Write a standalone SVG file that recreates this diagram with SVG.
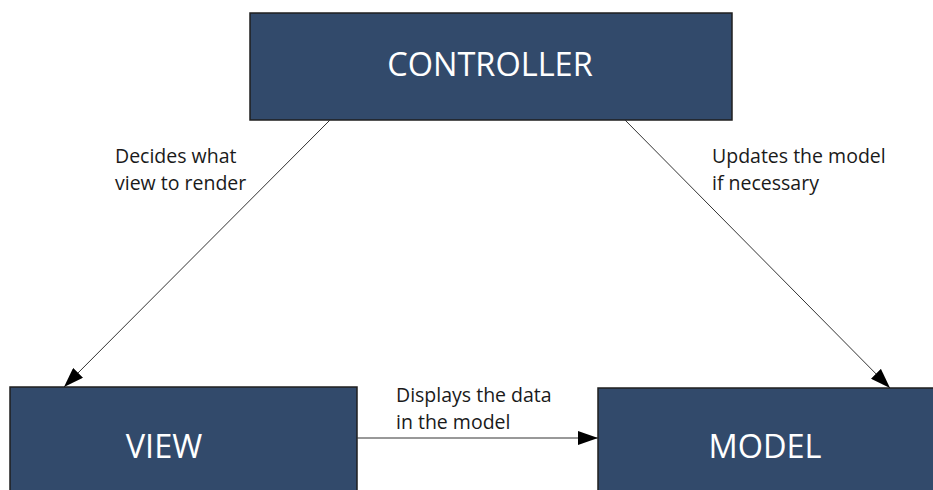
<svg xmlns="http://www.w3.org/2000/svg" width="933" height="490" viewBox="0 0 933 490">
  <style>
    .box { fill: #324a6b; stroke: #1f1f1f; stroke-width: 1.5; }
    .title { font-family: "Open Sans", "Noto Sans", sans-serif; font-size: 32.5px; fill: #ffffff; text-anchor: middle; }
    .label { font-family: "Open Sans", "Noto Sans", sans-serif; font-size: 19.5px; fill: #1a1a1a; }
    .edge { stroke: #333333; stroke-width: 1; fill: none; marker-end: url(#arrow); }
  </style>
  <defs>
    <marker id="arrow" viewBox="0 0 20 14" refX="20" refY="7" markerWidth="20" markerHeight="14" markerUnits="userSpaceOnUse" orient="auto">
      <path d="M0,0 L20,7 L0,14 Z" fill="#000000"/>
    </marker>
  </defs>
  <rect width="933" height="490" fill="#ffffff"/>

  <g id="controller">
    <rect class="box" x="250" y="13" width="482" height="107"/>
    <text class="title" x="490" y="76">CONTROLLER</text>
  </g>

  <g id="view">
    <rect class="box" x="10" y="387" width="347" height="110"/>
    <text class="title" x="164" y="458">VIEW</text>
  </g>

  <g id="model">
    <rect class="box" x="598" y="388" width="345" height="110"/>
    <text class="title" x="765" y="458">MODEL</text>
  </g>

  <g id="connectors">
    <line class="edge" x1="330" y1="120" x2="64" y2="387"/>
    <line class="edge" x1="625" y1="120" x2="890" y2="388"/>
    <line class="edge" x1="357" y1="438" x2="598" y2="438"/>
    <text class="label" x="115" y="163">Decides what</text>
    <text class="label" x="115" y="190">view to render</text>
    <text class="label" x="712" y="163">Updates the model</text>
    <text class="label" x="712" y="190">if necessary</text>
    <text class="label" x="396" y="402">Displays the data</text>
    <text class="label" x="396" y="429">in the model</text>
  </g>
</svg>
